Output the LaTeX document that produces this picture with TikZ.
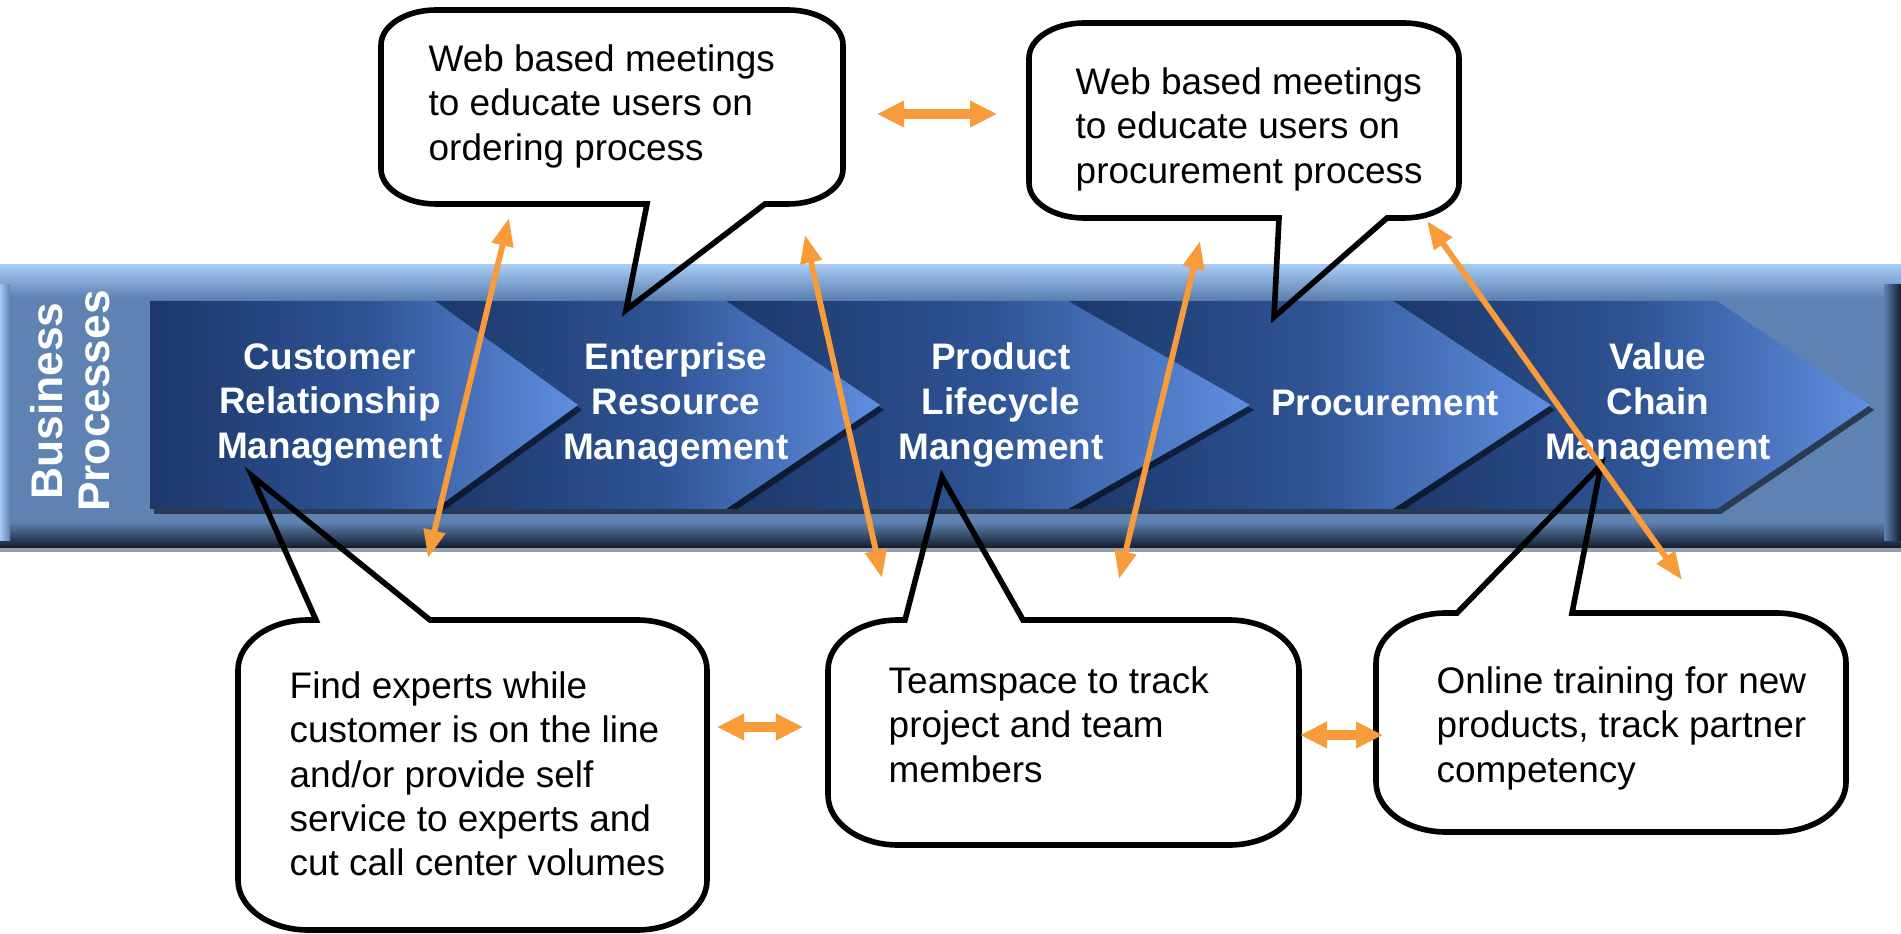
\documentclass[tikz,border=0pt]{standalone}
\usepackage{fontspec}
\setmainfont{Liberation Sans}
\usetikzlibrary{arrows.meta}
\definecolor{bandblue}{RGB}{94,130,178}
\definecolor{bandlight}{RGB}{165,203,245}
\definecolor{banddark}{RGB}{18,27,44}
\definecolor{bandgray}{RGB}{150,160,172}
\definecolor{chevdark}{RGB}{28,55,106}
\definecolor{chevmid}{RGB}{46,83,148}
\definecolor{chevlight}{RGB}{96,142,224}
\definecolor{linkorange}{RGB}{248,155,58}
\begin{document}
\begin{tikzpicture}[x=0.01cm,y=-0.01cm,
    bubble line/.style={draw=black,line width=0.056cm,line join=miter},
    note text/.style={align=left,anchor=north west,inner sep=0pt,font=\fontsize{10.5}{12.6}\selectfont},
    stage text/.style={align=center,inner sep=0pt,text=white,font=\fontsize{10.5}{12.7}\selectfont\bfseries},
    chevron/.style={left color=chevdark,right color=chevlight,middle color=chevmid},
    chevron shadow/.style={fill=black,opacity=0.55,shift={(4,5)}},
    link/.style={<->,>={Triangle[length=0.28cm,width=0.21cm]},color=linkorange,line width=0.058cm},
    wide link/.style={link,>={Triangle[length=0.27cm,width=0.25cm]},line width=0.095cm}]

        \useasboundingbox (0,0) rectangle (1901,934);
        \fill[white] (0,0) rectangle (1901,934);

        % Draw band
        \fill[bandblue] (0,265) rectangle (1901,552);
        \shade[top color=bandlight,bottom color=bandblue] (0,265) rectangle (1901,298);
        \shade[top color=bandblue,bottom color=banddark] (0,522) rectangle (1901,548);
        \fill[bandgray] (0,548) rectangle (1901,552);
        \shade[left color=bandlight,right color=bandblue] (0,285) rectangle (10,540);
        \shade[left color=bandblue,right color=banddark] (1884,285) rectangle (1901,540);

        % Draw chevrons, last one first
        \fill[chevron shadow] (1393,301) -- (1717,301) -- (1870,405) -- (1717,509) -- (1393,509) -- (1551,405) -- cycle;
        \shade[chevron] (1393,301) -- (1717,301) -- (1870,405) -- (1717,509) -- (1393,509) -- (1551,405) -- cycle;
        \fill[chevron shadow] (1068,301) -- (1393,301) -- (1551,405) -- (1393,509) -- (1068,509) -- (1250,405) -- cycle;
        \shade[chevron] (1068,301) -- (1393,301) -- (1551,405) -- (1393,509) -- (1068,509) -- (1250,405) -- cycle;
        \fill[chevron shadow] (726,301) -- (1068,301) -- (1250,405) -- (1068,509) -- (726,509) -- (880,405) -- cycle;
        \shade[chevron] (726,301) -- (1068,301) -- (1250,405) -- (1068,509) -- (726,509) -- (880,405) -- cycle;
        \fill[chevron shadow] (435,301) -- (726,301) -- (880,405) -- (726,509) -- (435,509) -- (578,405) -- cycle;
        \shade[chevron] (435,301) -- (726,301) -- (880,405) -- (726,509) -- (435,509) -- (578,405) -- cycle;
        \fill[chevron shadow] (150,301) -- (435,301) -- (578,405) -- (435,509) -- (150,509) -- cycle;
        \shade[chevron] (150,301) -- (435,301) -- (578,405) -- (435,509) -- (150,509) -- cycle;

        % Define stages
        \node[stage text,rotate=90,font=\fontsize{12.6}{13.4}\selectfont\bfseries] (business) at (70,401) {Business\\Processes};
        \node[stage text] (crm) at (330,405) {Customer\\Relationship\\Management};
        \node[stage text] (erp) at (676,405) {Enterprise\\Resource\\Management};
        \node[stage text] (plm) at (1001,405) {Product\\Lifecycle\\Mangement};
        \node[stage text] (proc) at (1385,403) {Procurement};
        \node[stage text] (vcm) at (1658,405) {Value\\Chain\\Management};

        % Draw bubbles
        \draw[bubble line] (436,10) -- (788,10) arc[start angle=-90,end angle=0,x radius=55,y radius=35]
            -- (843,169) arc[start angle=0,end angle=90,x radius=55,y radius=35]
            -- (765,204) -- (626,310) -- (647,204)
            -- (436,204) arc[start angle=90,end angle=180,x radius=55,y radius=35]
            -- (381,45) arc[start angle=180,end angle=270,x radius=55,y radius=35] -- cycle;
        \draw[bubble line] (1084,23) -- (1404,23) arc[start angle=-90,end angle=0,x radius=55,y radius=35]
            -- (1459,183) arc[start angle=0,end angle=90,x radius=55,y radius=35]
            -- (1387,218) -- (1274,317) -- (1279,218)
            -- (1084,218) arc[start angle=90,end angle=180,x radius=55,y radius=35]
            -- (1029,58) arc[start angle=180,end angle=270,x radius=55,y radius=35] -- cycle;
        \draw[bubble line] (308,620) -- (316,620) -- (252,476) -- (430,620)
            -- (637,620) arc[start angle=-90,end angle=0,x radius=70,y radius=50]
            -- (707,880) arc[start angle=0,end angle=90,x radius=70,y radius=50]
            -- (308,930) arc[start angle=90,end angle=180,x radius=70,y radius=50]
            -- (238,670) arc[start angle=180,end angle=270,x radius=70,y radius=50] -- cycle;
        \draw[bubble line] (898,620) -- (905,620) -- (942,477) -- (1023,620)
            -- (1229,620) arc[start angle=-90,end angle=0,x radius=70,y radius=50]
            -- (1299,795) arc[start angle=0,end angle=90,x radius=70,y radius=50]
            -- (898,845) arc[start angle=90,end angle=180,x radius=70,y radius=50]
            -- (828,670) arc[start angle=180,end angle=270,x radius=70,y radius=50] -- cycle;
        \draw[bubble line] (1446,613) -- (1457,613) -- (1601,465) -- (1572,613)
            -- (1776,613) arc[start angle=-90,end angle=0,x radius=70,y radius=50]
            -- (1846,782) arc[start angle=0,end angle=90,x radius=70,y radius=50]
            -- (1446,832) arc[start angle=90,end angle=180,x radius=70,y radius=50]
            -- (1376,663) arc[start angle=180,end angle=270,x radius=70,y radius=50] -- cycle;

        % Define notes
        \node[note text] (ordering) at (428,44) {Web based meetings\\to educate users on\\ordering process};
        \node[note text] (procuring) at (1075,67) {Web based meetings\\to educate users on\\procurement process};
        \node[note text] (experts) at (289,671) {Find experts while\\customer is on the line\\and/or provide self\\service to experts and\\cut call center volumes};
        \node[note text] (teamspace) at (888,666) {Teamspace to track\\project and team\\members};
        \node[note text] (training) at (1436,666) {Online training for new\\products, track partner\\competency};

        % Define arrow ends
        \coordinate (w1) at (509,218);
        \coordinate (w2) at (428,558);
        \coordinate (x1) at (805,235);
        \coordinate (x2) at (882,578);
        \coordinate (y1) at (1200,241);
        \coordinate (y2) at (1119,579);
        \coordinate (z1) at (1427,221);
        \coordinate (z2) at (1682,580);
        \coordinate (t1) at (877,114);
        \coordinate (t2) at (997,114);
        \coordinate (b1) at (717,727);
        \coordinate (b2) at (803,727);
        \coordinate (b3) at (1300,735);
        \coordinate (b4) at (1383,735);

        % Draw arrows
        \path[link]
            (w1) edge (w2)
            (x1) edge (x2)
            (y1) edge (y2)
            (z1) edge (z2);
        \path[wide link]
            (t1) edge (t2)
            (b1) edge (b2)
            (b3) edge (b4);

\end{tikzpicture}
\end{document}
